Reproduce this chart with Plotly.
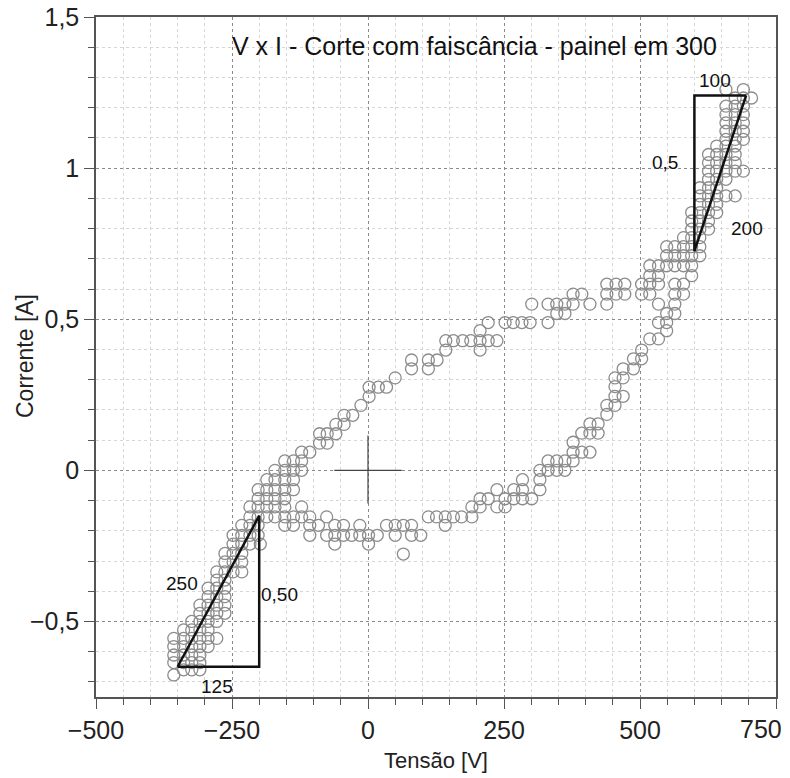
import plotly.graph_objects as go

# ---------------- data ----------------
# lower-left cluster
A_I = [0.06, 0.031, 0.0, -0.031, -0.064, -0.094, -0.121, -0.154, -0.182, -0.215, -0.244,
       -0.275, -0.303, -0.336, -0.363, -0.39, -0.418, -0.446, -0.473, -0.50, -0.528,
       -0.556, -0.583, -0.611, -0.636, -0.66, -0.677]
A_V = [
    [-122, -107],
    [-153, -137, -122],
    [-171, -153, -137, -122],
    [-186, -171, -153, -137],
    [-202, -186, -171, -153, -137],
    [-202, -186, -171, -153],
    [-217, -202, -186, -171, -153],
    [-217, -202, -186, -171],
    [-232, -217, -202],
    [-248, -232, -217, -202],
    [-248, -232, -217, -198],
    [-263, -248, -232],
    [-263, -248, -232],
    [-278, -263, -248, -232],
    [-278, -263],
    [-294, -278, -263],
    [-294, -278, -263],
    [-309, -294, -278, -263],
    [-309, -294, -278, -263],
    [-324, -309, -294, -278],
    [-339, -324, -309, -294],
    [-357, -339, -324, -309, -294, -278],
    [-357, -339, -324, -309, -294],
    [-357, -339, -324, -309],
    [-357, -339, -324, -309],
    [-339, -324, -309],
    [-357],
]

# lower (return) branch, flat part
B_I = [-0.094, -0.121, -0.154, -0.182, -0.215, -0.244, -0.277]
B_V = [
    [206, 221],
    [-122, 191, 206],
    [-153, -137, -122, -107, -76, 111, 126, 142, 157, 172, 191],
    [-153, -137, -107, -91, -61, -45, -15, 34, 50, 65, 80, 142],
    [-107, -76, -61, -45, -30, -15, 1, 17, 50, 80, 97],
    [-61, 1],
    [65],
]

# lower branch, rising part
C_I = [-0.121, -0.094, -0.064, -0.031, 0.0, 0.031, 0.06, 0.093, 0.123, 0.154, 0.185,
       0.215, 0.245, 0.277, 0.306, 0.336, 0.369, 0.398, 0.435, 0.462, 0.489, 0.519, 0.55]
C_V = [
    [237, 252],
    [252, 268, 284, 301],
    [237, 268, 284, 316],
    [284, 316],
    [316, 331, 347, 362],
    [331, 347, 362, 377],
    [377, 393, 408],
    [377],
    [393, 408, 423],
    [408, 423],
    [439],
    [439, 454],
    [454, 469],
    [454],
    [454, 469],
    [469, 488],
    [488, 503],
    [503],
    [518, 534],
    [549],
    [534, 549],
    [549, 564],
    [534, 564],
]

# upper branch
D_I = [0.09, 0.121, 0.152, 0.182, 0.215, 0.244, 0.275, 0.306, 0.336, 0.365, 0.398,
       0.429, 0.462, 0.489, 0.519, 0.55, 0.583, 0.616]
D_V = [
    [-89, -75],
    [-89, -75, -59],
    [-59, -44],
    [-44, -28],
    [-13],
    [2],
    [2, 19, 34],
    [50],
    [80, 111],
    [80, 111, 127],
    [143, 206],
    [143, 157, 174, 189, 206, 221, 237],
    [206],
    [221, 252, 267, 283, 298, 331],
    [347, 362],
    [301, 331, 347, 362, 377, 408, 439],
    [377, 393, 439, 456, 472, 503, 518],
    [439, 456, 472, 503, 518, 534],
]

# upper-right cluster
E_I = [0.583, 0.616, 0.644, 0.677, 0.71, 0.74, 0.77, 0.798, 0.825, 0.853, 0.88, 0.908,
       0.935, 0.963, 0.99, 1.018, 1.045, 1.073, 1.095, 1.122, 1.15, 1.177, 1.205, 1.232, 1.26]
E_V = [
    [564, 580],
    [564, 580],
    [518, 534, 595],
    [518, 534, 549, 564, 580, 595],
    [549, 564, 580, 595, 610],
    [549, 564, 580, 595, 610],
    [580, 595, 610],
    [595, 610, 626],
    [595, 610, 626],
    [595, 610, 626, 641],
    [610, 626, 641],
    [610, 626, 641, 658, 675],
    [610, 626, 641],
    [626, 641, 658],
    [626, 641, 658, 675, 690],
    [626, 641, 658, 675],
    [626, 641, 658, 675],
    [641, 658, 675],
    [658, 675, 690],
    [658, 675, 690],
    [658, 675, 690],
    [658, 675, 690],
    [658, 675, 690],
    [675, 690, 705],
    [658, 690],
]

# slope triangles and origin cross
tri_left_v = [-350, -200, -200, -350]
tri_left_i = [-0.65, -0.65, -0.15, -0.65]
tri_right_v = [695, 600, 600, 695]
tri_right_i = [1.24, 1.24, 0.725, 1.24]
cross_h_v = [-62, 62]
cross_h_i = [0, 0]
cross_v_v = [0, 0]
cross_v_i = [-0.11, 0.115]

tri_labels = ["250", "0,50", "125", "100", "0,5", "200"]
tri_label_v = [-342, -163, -278, 638, 546, 696]
tri_label_i = [-0.375, -0.41, -0.715, 1.29, 1.018, 0.80]

x_tickvals = [-500, -250, 0, 250, 500, 750]
x_ticktext = ["\u2212500", "\u2212250", "0", "250", "500", "750"]
y_tickvals = [-0.5, 0, 0.5, 1, 1.5]
y_ticktext = ["\u22120,5", "0", "0,5", "1", "1,5"]

title_text = "V x I - Corte com faiscância - painel em 300"
title_v = 195
title_i = 1.405

# ---------------- build ----------------
xs, ys = [], []
for levels, rows in [(A_I, A_V), (B_I, B_V), (C_I, C_V), (D_I, D_V), (E_I, E_V)]:
    for lev, row in zip(levels, rows):
        for v in row:
            xs.append(v)
            ys.append(lev)

FONT = "Arial, 'Liberation Sans', sans-serif"
fig = go.Figure()
fig.add_trace(go.Scatter(
    x=xs, y=ys, mode="markers",
    marker=dict(symbol="circle-open", size=12, color="#8c8c8c", line=dict(width=1.3, color="#8c8c8c")),
    hoverinfo="skip", showlegend=False))

for vx, iy, w, c in [(cross_h_v, cross_h_i, 1.2, "#444"), (cross_v_v, cross_v_i, 1.2, "#444"),
                     (tri_left_v, tri_left_i, 2.5, "#111"), (tri_right_v, tri_right_i, 2.5, "#111")]:
    fig.add_trace(go.Scatter(x=vx, y=iy, mode="lines", line=dict(color=c, width=w),
                             hoverinfo="skip", showlegend=False))

for t, vx, iy in zip(tri_labels, tri_label_v, tri_label_i):
    fig.add_annotation(x=vx, y=iy, text=t, showarrow=False, font=dict(family=FONT, size=19, color="#111"))

fig.add_annotation(x=title_v, y=title_i, text=title_text, showarrow=False,
                   font=dict(family=FONT, size=25, color="#111"))

# y-axis title placed as rotated text left of the tick labels
fig.add_annotation(x=-0.1044, y=0.5015, xref="paper", yref="paper", text="Corrente [A]",
                   textangle=-90, showarrow=False, xanchor="center", yanchor="middle",
                   font=dict(family=FONT, size=23, color="#222"))

# last x tick label, shifted left to stay inside the page (as in the reference)
x_ticktext_shown = x_ticktext[:-1] + [""]
fig.add_annotation(x=1.0, y=-0.047, xref="paper", yref="paper", text=x_ticktext[-1],
                   showarrow=False, xanchor="right", yanchor="middle", xshift=8,
                   font=dict(family=FONT, size=25, color="#222"))

axis_common = dict(
    showline=True, linecolor="#555", linewidth=1.5, mirror=True,
    ticks="outside", ticklen=10, tickwidth=1.3, tickcolor="#555",
    showgrid=True, gridcolor="#8a8a8a", griddash="dot", gridwidth=1,
    zeroline=False, tickfont=dict(family=FONT, size=25, color="#222"),
)
fig.update_xaxes(range=[-500, 750], tickvals=x_tickvals, ticktext=x_ticktext_shown,
                 minor=dict(dtick=50, tick0=0, ticks="outside", ticklen=6, tickcolor="#555",
                            showgrid=True, gridcolor="#d6d6d6", griddash="dot", gridwidth=1),
                 title=dict(text="Tensão [V]", font=dict(family=FONT, size=22, color="#222"), standoff=10),
                 **axis_common)
fig.update_yaxes(range=[-0.75, 1.5], tickvals=y_tickvals, ticktext=y_ticktext,
                 minor=dict(dtick=0.1, tick0=0, ticks="outside", ticklen=6, tickcolor="#555",
                            showgrid=True, gridcolor="#d6d6d6", griddash="dot", gridwidth=1),
                 **axis_common)

fig.update_layout(width=790, height=778, margin=dict(l=96, r=14, t=17, b=81, autoexpand=False),
                  plot_bgcolor="white", paper_bgcolor="white", font=dict(family=FONT))

fig.write_html("out.html")
